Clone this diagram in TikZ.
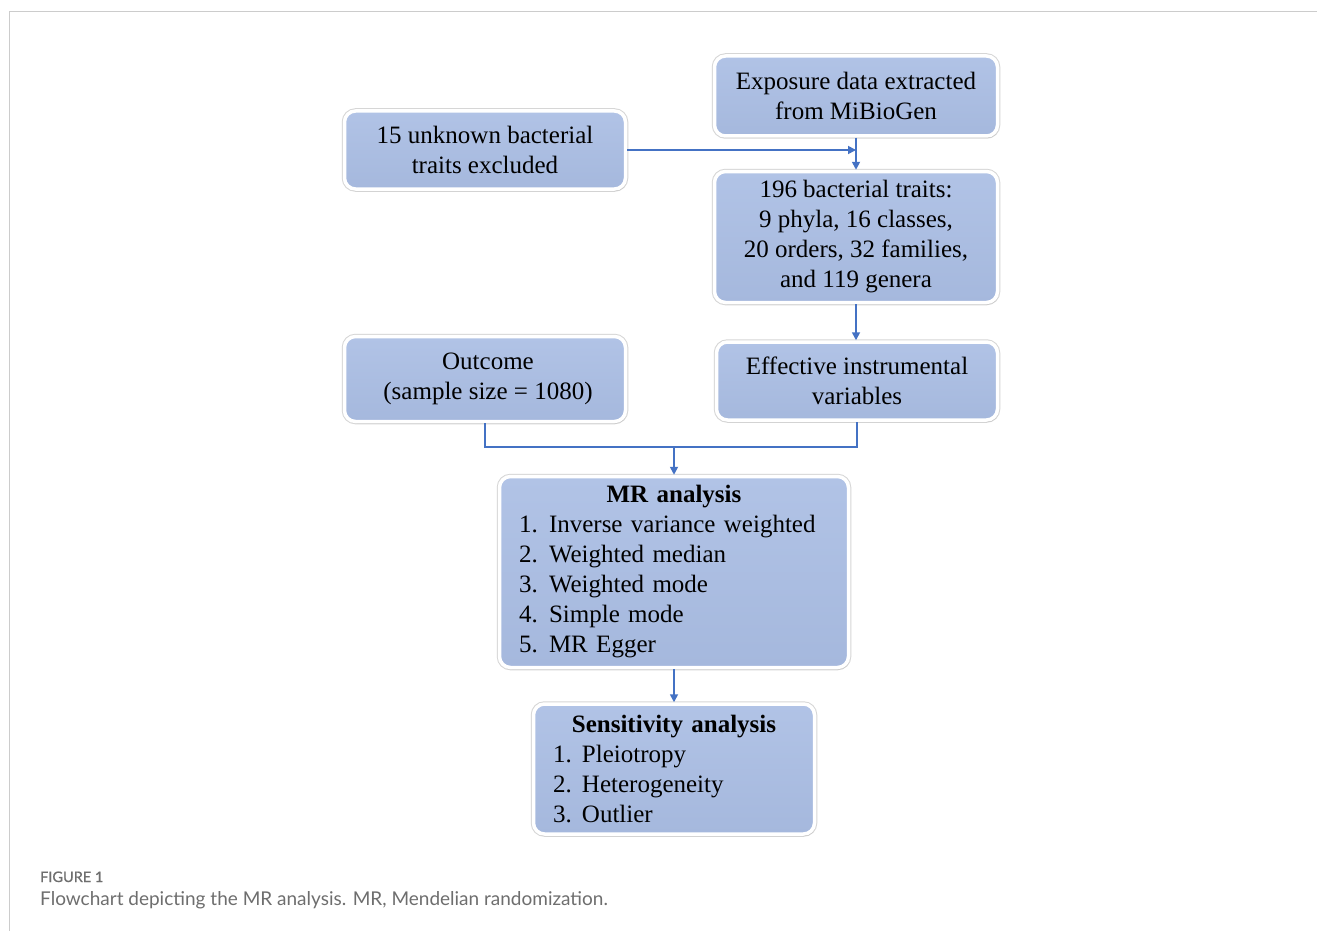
\documentclass[tikz,border=0pt]{standalone}
\usepackage{fontspec}
\setmainfont{Liberation Serif}
\newfontfamily\capfont{Lato}
\newfontfamily\capfontsb[FakeBold=0.7]{Lato}
\usetikzlibrary{shadows,arrows.meta}
\definecolor{boxtop}{HTML}{B1C3E6}
\definecolor{boxbot}{HTML}{A5B8DD}
\definecolor{lineblue}{HTML}{4472C4}
\definecolor{framegray}{HTML}{CCCCCC}
\definecolor{capgray}{HTML}{6E6E6E}
\begin{document}
\begin{tikzpicture}[x=1pt,y=-1pt,
  box/.style={rectangle, rounded corners=11pt, draw=white, line width=3.5pt,
    top color=boxtop, bottom color=boxbot,
    preaction={draw=black!16, line width=5.5pt},
    drop shadow={opacity=0.25, shadow xshift=1pt, shadow yshift=-2pt},
    font=\fontsize{25}{30}\selectfont, align=center, inner sep=2pt},
  conn/.style={draw=lineblue, line width=1.7pt},
  arr/.style={conn, -{Triangle[length=8pt,width=8pt]}}]
\useasboundingbox (0,0) rectangle (1317,931);
\fill[white] (0,0) rectangle (1317,931);
\draw[framegray, line width=1pt] (9.5,931) -- (9.5,11.5) -- (1317,11.5);

\node[box, minimum width=283pt, minimum height=80pt] (expo) at (856,96)
  {Exposure data extracted\\from MiBioGen};
\node[box, minimum width=281pt, minimum height=78pt] (unknown) at (485,150)
  {15 unknown bacterial\\traits excluded};
\node[box, minimum width=283pt, minimum height=131pt] (traits) at (856,237)
  {196 bacterial traits:\\9 phyla, 16 classes,\\20 orders, 32 families,\\and 119 genera};
\node[box, minimum width=281pt, minimum height=85pt] (outcome) at (485,379)
  {\hspace*{6pt}Outcome\\\hspace*{6pt}(sample size = 1080)};
\node[box, minimum width=281pt, minimum height=78pt] (effective) at (857,381)
  {Effective instrumental\\variables};
\node[box, minimum width=349pt, minimum height=191pt, text width=310pt, align=left] (mr) at (674,572)
  {\makebox[\hsize]{\bfseries MR analysis}\\
   \makebox[30pt][l]{1.}Inverse variance weighted\\
   \makebox[30pt][l]{2.}Weighted median\\
   \makebox[30pt][l]{3.}Weighted mode\\
   \makebox[30pt][l]{4.}Simple mode\\
   \makebox[30pt][l]{5.}MR Egger};
\node[box, minimum width=281pt, minimum height=130pt, text width=242pt, align=left] (sens) at (674,769)
  {\makebox[\hsize]{\bfseries Sensitivity analysis}\\
   \makebox[29pt][l]{1.}Pleiotropy\\
   \makebox[29pt][l]{2.}Heterogeneity\\
   \makebox[29pt][l]{3.}Outlier};

\draw[arr] (expo.south) -- (traits.north);
\draw[arr] (unknown.east) -- (unknown.east -| expo.south);
\draw[arr] (traits.south) -- (traits.south |- effective.north);
\coordinate (junc) at (674,447);
\draw[conn] (outcome.south) |- (junc) -| (effective.south);
\draw[arr] (junc) -- (mr.north);
\draw[arr] (mr.south) -- (sens.north);

\node[anchor=base west, inner sep=0pt, font=\capfontsb\fontsize{14.5}{16}\selectfont, text=capgray] (figlabel) at (40,882) {FIGURE 1};
\node[anchor=base west, inner sep=0pt, font=\capfont\fontsize{19}{21}\selectfont, text=capgray] (caption) at (40,905)
  {Flowchart depicting the MR analysis. MR, Mendelian randomization.};
\end{tikzpicture}
\end{document}
